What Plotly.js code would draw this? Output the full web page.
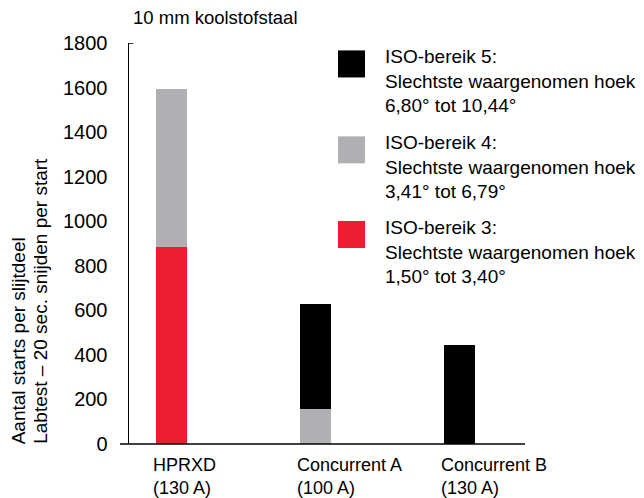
<!DOCTYPE html>
<html>
<head>
<meta charset="utf-8">
<script src="https://cdn.plot.ly/plotly-3.0.1.min.js"></script>
<style>
  html, body { margin: 0; padding: 0; background: #fff; }
  #chart { width: 644px; height: 498px; }
</style>
</head>
<body>
<div id="chart"></div>
<script>
// ---- data ----
const categories = ["HPRXD", "Concurrent A", "Concurrent B"];
const categoryLabels = ["HPRXD<br>(130 A)", "Concurrent A<br>(100 A)", "Concurrent B<br>(130 A)"];
const iso3 = [883, null, null];
const iso4 = [710, 156, null];
const iso5 = [null, 472, 443];
const seriesNames = [
  "ISO-bereik 5:<br>Slechtste waargenomen hoek<br>6,80° tot 10,44°",
  "ISO-bereik 4:<br>Slechtste waargenomen hoek<br>3,41° tot 6,79°",
  "ISO-bereik 3:<br>Slechtste waargenomen hoek<br>1,50° tot 3,40°"
];
const yTicks = [0, 200, 400, 600, 800, 1000, 1200, 1400, 1600, 1800];
const chartTitle = "10 mm koolstofstaal";
const yTitleLines = ["Aantal starts per slijtdeel", "Labtest – 20 sec. snijden per start"];

// ---- layout helpers ----
const W = 644, H = 498;
const L = 129, R = 525, T = 43.3, B = 443.7;
const px2x = p => (p - L) / (R - L);
const px2y = p => (B - p) / (B - T);
const FONT = "Liberation Sans, Arial, Helvetica, sans-serif";
const RED = "#EE1D31", GRAY = "#AEB0B3", BLACK = "#000000";

const barWidth = 0.215;
const traces = [
  { type: "bar", x: categories, y: iso3, name: seriesNames[2], marker: { color: RED, line: { width: 0 } }, width: barWidth, showlegend: false, hoverinfo: "skip" },
  { type: "bar", x: categories, y: iso4, name: seriesNames[1], marker: { color: GRAY, line: { width: 0 } }, width: barWidth, showlegend: false, hoverinfo: "skip" },
  { type: "bar", x: categories, y: iso5, name: seriesNames[0], marker: { color: BLACK, line: { width: 0 } }, width: barWidth, showlegend: false, hoverinfo: "skip" }
];

const annotations = [];
const shapes = [];

// title
annotations.push({ text: chartTitle, xref: "paper", yref: "paper", x: px2x(131), y: px2y(18),
  xanchor: "left", yanchor: "middle", showarrow: false, font: { family: FONT, size: 18.5, color: "#000" } });

// y-axis title (two left-aligned rotated lines)
const yTitleX = [18.5, 40.5];
yTitleLines.forEach((t, i) => {
  annotations.push({ text: t, xref: "paper", yref: "paper", x: px2x(yTitleX[i]), y: px2y(446),
    xanchor: "center", yanchor: "bottom", textangle: -90, showarrow: false,
    font: { family: FONT, size: 19, color: "#000" } });
});

// category labels (left aligned under bars)
categories.forEach((c, i) => {
  annotations.push({ text: categoryLabels[i], xref: "x", yref: "paper", x: i, xshift: -20.5,
    y: px2y(476), xanchor: "left", yanchor: "middle", align: "left", showarrow: false,
    font: { family: FONT, size: 18, color: "#000" } });
});

// legend
const legColors = [BLACK, GRAY, RED];
const legTop = [50.7, 136.5, 221];
legColors.forEach((col, i) => {
  shapes.push({ type: "rect", xref: "paper", yref: "paper",
    x0: px2x(338), x1: px2x(365), y0: px2y(legTop[i]), y1: px2y(legTop[i] + 27),
    fillcolor: col, line: { width: 0 } });
  annotations.push({ text: seriesNames[i], xref: "paper", yref: "paper", x: px2x(383),
    y: px2y(legTop[i] + 31), xanchor: "left", yanchor: "middle", align: "left", showarrow: false,
    font: { family: FONT, size: 19, color: "#000" } });
});

// x axis baseline extended left of y axis
shapes.push({ type: "line", xref: "paper", yref: "paper", x0: px2x(120), x1: 1, y0: 0, y1: 0,
  line: { color: "#000", width: 1.5 } });
// small tick at top of y axis
shapes.push({ type: "line", xref: "paper", yref: "y", x0: 0, x1: px2x(133.5), y0: 1800, y1: 1800,
  line: { color: "#000", width: 1.5 } });

const layout = {
  width: W, height: H,
  margin: { l: L, r: W - R, t: T, b: H - B, pad: 0 },
  paper_bgcolor: "#fff", plot_bgcolor: "#fff",
  barmode: "stack",
  showlegend: false,
  font: { family: FONT, color: "#000" },
  xaxis: { type: "category", range: [-0.295, 2.455], showticklabels: false, ticks: "",
    showline: false, showgrid: false, zeroline: false, fixedrange: true },
  yaxis: { range: [0, 1800], tickvals: yTicks, ticktext: yTicks.map(String), ticks: "",
    ticklabelstandoff: 16, tickfont: { family: FONT, size: 20, color: "#000" },
    showline: true, linecolor: "#000", linewidth: 1.5, showgrid: false, zeroline: false, fixedrange: true },
  annotations: annotations,
  shapes: shapes
};

Plotly.newPlot("chart", traces, layout, { displayModeBar: false, staticPlot: true });
</script>
</body>
</html>
